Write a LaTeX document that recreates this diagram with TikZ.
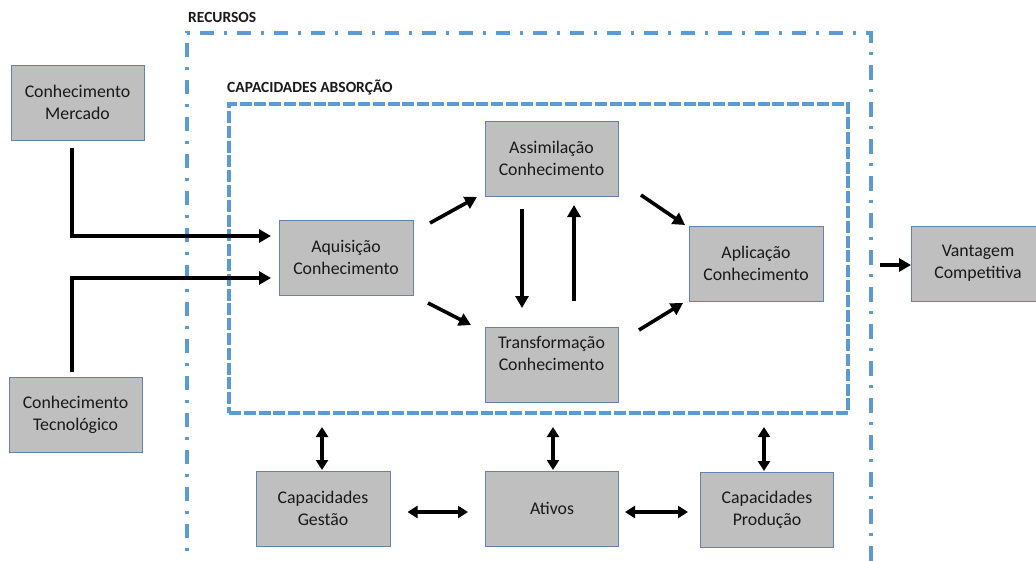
\documentclass[tikz,border=0pt]{standalone}
\usepackage{fontspec}
\setmainfont{Carlito}
\usetikzlibrary{arrows.meta}
\definecolor{officeblue}{RGB}{91,155,213}
\definecolor{boxfill}{RGB}{191,191,191}
\definecolor{boxline}{RGB}{100,130,170}
\definecolor{txt}{RGB}{25,25,25}
\tikzset{
  stepbox/.style={draw=boxline, line width=1pt, fill=boxfill, inner sep=0pt,
    minimum width=133pt, minimum height=75pt, align=center, text=txt,
    font=\fontsize{17.8}{22}\selectfont},
  header/.style={anchor=west, inner sep=0pt, text=txt,
    font=\fontsize{15.5}{18}\selectfont\bfseries},
  flow/.style={line width=3.6pt, black, -{Triangle[length=12pt,width=13pt]}},
  twoway/.style={line width=3.4pt, black,
    {Triangle[length=10pt,width=12pt]}-{Triangle[length=10pt,width=12pt]}},
  absbox/.style={draw=officeblue, line width=4pt,
    dash pattern=on 12pt off 2.8pt},
  resbox/.style={draw=officeblue, line width=4pt,
    dash pattern=on 14.5pt off 9.5pt on 3.3pt off 9.7pt}
}
\begin{document}
\begin{tikzpicture}[x=1pt,y=-1pt]
\useasboundingbox (0,0) rectangle (1036,560);

% resource frame (open at the bottom) and absorptive-capacity frame
\draw[resbox] (186.5,575) -- (186.5,33) -- (870.5,33) -- (870.5,575);
\node[absbox, minimum width=619pt, minimum height=309pt, inner sep=0pt]
  (absorcao) at (538.5,258.5) {};

\node[header] (lblres) at (188,17) {RECURSOS};
\node[header] (lblabs) at (227,87) {CAPACIDADES ABSORÇÃO};

% boxes
\node[stepbox] (mercado) at (77.5,102.5) {Conhecimento\\Mercado};
\node[stepbox] (tecno)   at (75.5,414.5) {Conhecimento\\Tecnológico};
\node[stepbox, minimum width=134pt] (aquis) at (346,257.5) {Aquisição\\Conhecimento};
\node[stepbox] (assim)  at (551.5,158.5) {Assimilação\\Conhecimento};
\node[stepbox] (transf) at (551.5,364.5) {Transformação\\Conhecimento\\\mbox{}};
\node[stepbox, minimum width=134pt] (aplic) at (756,263.5) {Aplicação\\Conhecimento};
\node[stepbox] (vant) at (978,263.5) {Vantagem\\Competitiva};
\node[stepbox, minimum width=134pt] (gestao) at (323,508.5) {Capacidades\\Gestão};
\node[stepbox] (ativos) at (552,508.5) {Ativos};
\node[stepbox] (producao) at (767,509.5) {Capacidades\\Produção};

% connector end points
\coordinate (mStart) at (72,148);
\coordinate (mEnd)   at (271,236);
\coordinate (tStart) at (72,372);
\coordinate (tEnd)   at (271,278);
\coordinate (aq1) at (430,223);
\coordinate (as1) at (477,197);
\coordinate (aq2) at (428,303);
\coordinate (tr1) at (471,325);
\coordinate (asDown1) at (522,209);
\coordinate (asDown2) at (522,308);
\coordinate (trUp1) at (574,301);
\coordinate (trUp2) at (574,205);
\coordinate (as2) at (641,195);
\coordinate (ap1) at (685,225);
\coordinate (tr2) at (639,330);
\coordinate (ap2) at (683,303);
\coordinate (ap3) at (880,265);
\coordinate (va1) at (911,265);

% knowledge flows
\draw[flow] (mStart) |- (mEnd);
\draw[flow] (tStart) |- (tEnd);
\draw[flow] (aq1) -- (as1);
\draw[flow] (aq2) -- (tr1);
\draw[flow] (asDown1) -- (asDown2);
\draw[flow] (trUp1) -- (trUp2);
\draw[flow] (as2) -- (ap1);
\draw[flow] (tr2) -- (ap2);
\draw[flow] (ap3) -- (va1);

% links between resources and absorptive capacities
\coordinate (g1) at (322,427);
\coordinate (g2) at (322,470);
\coordinate (a1) at (553,427);
\coordinate (a2) at (553,470);
\coordinate (p1) at (764,427);
\coordinate (p2) at (764,471);
\draw[twoway] (g1) -- (g2);
\draw[twoway] (a1) -- (a2);
\draw[twoway] (p1) -- (p2);

\draw[twoway, shorten <=17pt, shorten >=17pt] (gestao.east |- 0,512) -- (ativos.west |- 0,512);
\draw[twoway, shorten <=6pt, shorten >=12pt] (ativos.east |- 0,512) -- (producao.west |- 0,512);
\end{tikzpicture}
\end{document}
